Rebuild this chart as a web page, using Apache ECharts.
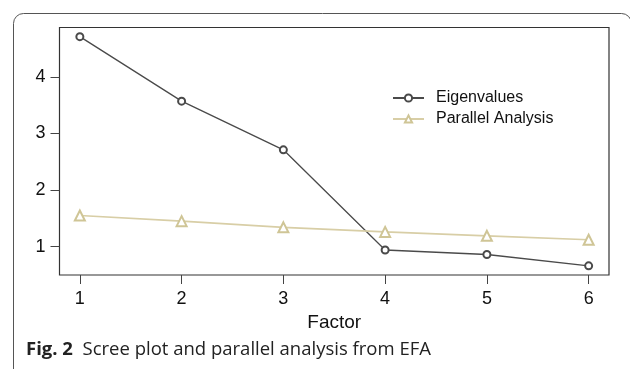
<!DOCTYPE html>
<html>
<head>
<meta charset="utf-8">
<script src="https://cdn.jsdelivr.net/npm/echarts@6/dist/echarts.min.js"></script>
<style>
html,body{margin:0;padding:0;background:#fff;}
#c{width:630px;height:369px;}
</style>
</head>
<body>
<div id="c"></div>
<script>
const factors = [1, 2, 3, 4, 5, 6];
const eigenvalues = [4.71, 3.57, 2.71, 0.94, 0.86, 0.66];
const parallelAnalysis = [1.55, 1.45, 1.34, 1.26, 1.19, 1.12];
const xTicks = [1, 2, 3, 4, 5, 6];
const yTicks = [1, 2, 3, 4];

const chart = echarts.init(document.getElementById('c'), null, {renderer: 'canvas'});
const font = '"Liberation Sans", Arial, sans-serif';
chart.setOption({
  animation: false,
  backgroundColor: '#fff',
  grid: {
    left: 59.5, right: 21, top: 27.5, bottom: 94,
    show: true, borderColor: '#333', borderWidth: 1.2, backgroundColor: 'transparent'
  },
  legend: {
    orient: 'vertical',
    left: 387, top: 85,
    itemWidth: 31, itemHeight: 9, itemGap: 5,
    textStyle: {fontFamily: font, fontSize: 16, color: '#111', padding: [0, 0, 0, 7]},
    data: ['Eigenvalues', 'Parallel Analysis']
  },
  xAxis: {
    type: 'value', min: 0.8, max: 6.2,
    name: 'Factor', nameLocation: 'middle', nameGap: 36,
    nameTextStyle: {fontFamily: font, fontSize: 19, color: '#111'},
    axisLine: {show: false},
    axisTick: {show: true, inside: false, length: 9, customValues: xTicks, lineStyle: {color: '#444', width: 1}},
    axisLabel: {customValues: xTicks, fontFamily: font, fontSize: 18, color: '#111', margin: 15},
    splitLine: {show: false}
  },
  yAxis: {
    type: 'value', min: 0.498, max: 4.872,
    axisLine: {show: false},
    axisTick: {show: true, inside: false, length: 9, customValues: yTicks, lineStyle: {color: '#444', width: 1}},
    axisLabel: {customValues: yTicks, fontFamily: font, fontSize: 18, color: '#111', margin: 14},
    splitLine: {show: false}
  },
  series: [
    {
      name: 'Eigenvalues', type: 'line',
      data: factors.map((f, i) => [f, eigenvalues[i]]),
      symbol: 'emptyCircle', symbolSize: 7,
      lineStyle: {color: '#4a4a4a', width: 1.3},
      itemStyle: {color: '#4a4a4a', borderWidth: 1.2}
    },
    {
      name: 'Parallel Analysis', type: 'line',
      data: factors.map((f, i) => [f, parallelAnalysis[i]]),
      symbol: 'emptyTriangle', symbolSize: 10,
      lineStyle: {color: '#d8cea6', width: 1.6},
      itemStyle: {color: '#cfc596', borderWidth: 1.2}
    }
  ],
  graphic: [
    {
      type: 'rect', left: 11, top: 11, z: -1,
      shape: {width: 618, height: 368, r: 10},
      style: {fill: 'none', stroke: '#555', lineWidth: 1}
    },
    {
      type: 'text', left: 26, top: 340,
      style: {
        text: '{b|Fig. 2}  Scree plot and parallel analysis from EFA',
        fontFamily: '"Open Sans", "Noto Sans", sans-serif', fontSize: 18.5, fill: '#222',
        rich: {b: {fontWeight: 'bold', fontFamily: '"Open Sans", "Noto Sans", sans-serif', fontSize: 18.5, fill: '#222'}}
      }
    }
  ]
});
</script>
</body>
</html>
